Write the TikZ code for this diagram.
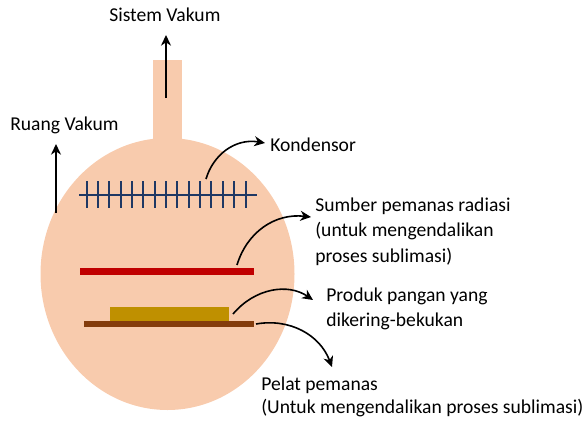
\documentclass[tikz,border=0pt]{standalone}
\usepackage{fontspec}
\setmainfont{Carlito}
\usetikzlibrary{arrows.meta}
\tikzset{
  chamber/.style={fill=peach},
  bar/.style={draw=none,inner sep=0pt,anchor=north west},
  txt/.style={inner sep=0pt,anchor=west,align=left,font=\fontsize{14.7pt}{19pt}\selectfont},
  flow/.style={line width=1.2pt,-{Stealth[length=8pt,width=7.5pt,inset=2.5pt]}},
  coil/.style={draw=navy,line width=1.5pt}
}
\definecolor{peach}{HTML}{F8CBAD}
\definecolor{navy}{HTML}{1F3864}
\definecolor{heater}{HTML}{C00000}
\definecolor{food}{HTML}{BF9000}
\definecolor{plate}{HTML}{843C0C}
\begin{document}
\begin{tikzpicture}[x=0.75pt,y=-0.75pt]
    \useasboundingbox (0,0) rectangle (585,421);
    % chamber
    \fill[chamber] (167.5,274) ellipse (127 and 136);
    \fill[chamber] (153,60) rectangle (182,145);
    % condenser
    \draw[coil] (79,195) -- (257,195);
    \foreach \i in {0,...,14}
      \draw[coil] (86.5+11.36*\i,181) -- (86.5+11.36*\i,208);
    % shelves
    \node[bar,fill=heater,minimum width=130.5pt,minimum height=5.2pt] (redbar) at (80,268) {};
    \node[bar,fill=food,minimum width=89.2pt,minimum height=10.5pt] (product) at (110,307) {};
    \node[bar,fill=plate,minimum width=127.5pt,minimum height=4.5pt] (platebar) at (84,321) {};
    % labels
    \node[txt] (sistem) at (109,15) {Sistem Vakum};
    \node[txt] (ruang) at (10,125.5) {Ruang Vakum};
    \node[txt] (kondensor) at (270,144.5) {Kondensor};
    \node[txt] (sumber) at (315,231.5) {Sumber pemanas radiasi\\(untuk mengendalikan\\proses sublimasi)};
    \node[txt,font=\fontsize{14.7pt}{18.5pt}\selectfont] (produk) at (326,309) {Produk pangan yang\\dikering-bekukan};
    \node[txt,font=\fontsize{14.7pt}{17.5pt}\selectfont] (pelat) at (261,397) {Pelat pemanas\\(Untuk mengendalikan proses sublimasi)};
    % ends of the arrows
    \coordinate (neck) at (166,98);
    \coordinate (sistemtip) at (166,35);
    \coordinate (wall) at (56,213);
    \coordinate (ruangtip) at (56,144);
    \coordinate (coilend) at (206,179);
    \coordinate (kondtip) at (265,143);
    \coordinate (redend) at (237,265);
    \coordinate (sumbertip) at (311,217);
    \coordinate (foodend) at (233,314);
    \coordinate (produktip) at (313,300);
    \coordinate (plateend) at (256,324);
    \coordinate (pelattip) at (332,367);
    % arrows
    \draw[flow] (neck) -- (sistemtip);
    \draw[flow] (wall) -- (ruangtip);
    \draw[flow] (coilend) .. controls (213,155) and (235,138) .. (kondtip);
    \draw[flow] (redend) .. controls (247,232) and (275,213) .. (sumbertip);
    \draw[flow] (foodend) .. controls (255,288) and (288,283) .. (produktip);
    \draw[flow] (plateend) .. controls (290,318) and (320,335) .. (pelattip);
\end{tikzpicture}
\end{document}
